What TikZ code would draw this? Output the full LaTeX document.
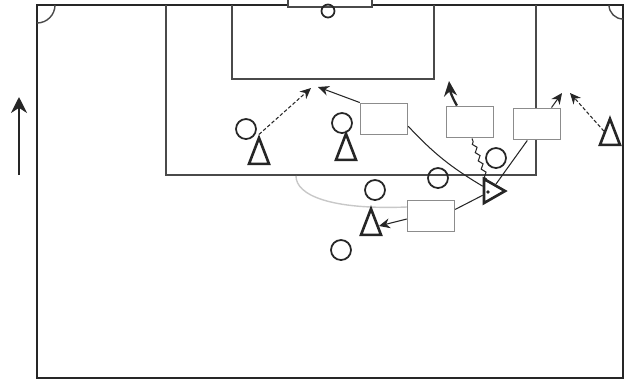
\documentclass[tikz,border=0pt]{standalone}
\usepackage{xcolor}
\usepackage{tikz}
\usetikzlibrary{arrows.meta,positioning,calc,shapes.geometric,decorations.pathmorphing}
\definecolor{ink}{HTML}{262626}
\definecolor{pitch}{HTML}{4A4A4A}
\definecolor{boxline}{HTML}{8C8C8C}
\definecolor{faint}{HTML}{C8C8C8}

\begin{document}
\begin{tikzpicture}[x=0.2mm,y=-0.2mm,>=Stealth,
  opp/.style={circle,draw=ink,line width=1pt,minimum size=4mm,inner sep=0pt},
  att/.style={isosceles triangle,isosceles triangle stretches,shape border rotate=90,draw=ink,line width=1.5pt,minimum width=4mm,minimum height=5.2mm,inner sep=0pt},
  zone/.style={draw=boxline,fill=white,line width=.8pt,minimum width=9.4mm,minimum height=6.3mm,inner sep=0pt},
  run/.style={ink,line width=.6pt,dash pattern=on 2pt off 1.2pt,-{Stealth[length=2.2mm,width=2mm]}},
  pass/.style={ink,line width=.6pt}]
  \useasboundingbox (0,0) rectangle (625,381);
  % pitch
  \draw[ink,line width=1.6pt] (288,5) -- (37,5) -- (37,378) -- (623,378) -- (623,5) -- (372,5);
  \draw[pitch,line width=.6pt] (288,0) -- (288,7) -- (372,7) -- (372,0);
  \draw[pitch,line width=.9pt] (166,5) -- (166,175) -- (536,175) -- (536,5);
  \draw[pitch,line width=.9pt] (232,5) -- (232,79) -- (434,79) -- (434,5);
  \draw[pitch,line width=.8pt] (55,5) arc[start angle=0,end angle=90,radius=18];
  \draw[pitch,line width=.8pt] (609,5) arc[start angle=180,end angle=90,radius=14];
  \node[circle,draw=ink,line width=1pt,minimum size=2.6mm,inner sep=0pt] (ball) at (328,11) {};
  % direction of play
  \coordinate (dirlow) at (19,175);
  \coordinate (dirtop) at (19,97);
  \draw[ink,line width=1.1pt,-{Stealth[length=3.2mm,width=3.2mm]}] (dirlow) -- (dirtop);
  % path of the cross
  \coordinate (arcend) at (296,176);
  \node[zone] (b4) at (431,216) {};
  \draw[faint,line width=.8pt] (b4.west |- 0,207) .. controls (330,210) and (296,195) .. (arcend);
  % players
  \node[opp] (o1) at (246,129) {};
  \node[opp] (o2) at (342,123) {};
  \node[opp] (o3) at (375,190) {};
  \node[opp] (o4) at (438,178) {};
  \node[opp] (o5) at (496,158) {};
  \node[opp] (o6) at (341,250) {};
  \node[att] (t1) at (259,157) {};
  \node[att] (t2) at (346,153) {};
  \node[att] (t3) at (371,228) {};
  \node[att] (t4) at (610,138) {};
  \node[att,shape border rotate=0,minimum height=4.2mm,minimum width=4.8mm] (t5) at (491,191) {};
  \fill[ink] (488,192) circle[radius=1.1pt];
  % zones
  \node[zone] (b1) at (384,119) {};
  \node[zone] (b2) at (470,122) {};
  \node[zone] (b3) at (537,124) {};
  % runs and passes
  \coordinate (r1) at (311,88);
  \coordinate (r2) at (318,87);
  \coordinate (r3) at (449,81);
  \coordinate (r4) at (562,93);
  \coordinate (r5) at (570,93);
  \draw[run] (t1.apex) -- (r1);
  \draw[pass,-{Stealth[length=2.2mm,width=2mm]}] (b1.north west) -- (r2);
  \draw[ink,line width=1.3pt,-{Stealth[length=3mm,width=2.6mm]}] ($(b2.north west)!.23!(b2.north east)$) to[bend left=12] (r3);
  \draw[pass,-{Stealth[length=2.2mm,width=2mm]}] ($(b3.north west)!.8!(b3.north east)$) -- (r4);
  \draw[run] (t4) -- (r5);
  \draw[pass,-{Stealth[length=2.2mm,width=2mm]}] (b4.west |- 0,219) -- (t3);
  \draw[pass] ($(b1.north east)!.72!(b1.south east)$) to[bend right=8] (t5);
  \draw[pass,decorate,decoration={zigzag,amplitude=1pt,segment length=5pt}] (t5) -- ($(b2.south)+(2,0)$);
  \draw[pass] (t5) -- ($(b3.south west)!.3!(b3.south east)$);
  \draw[pass] ($(b4.north east)!.3!(b4.south east)$) -- (t5);
\end{tikzpicture}
\end{document}
